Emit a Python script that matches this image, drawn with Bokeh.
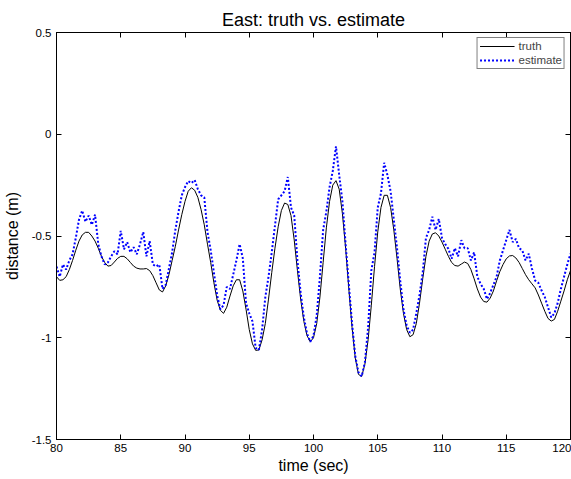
import numpy as np
from bokeh.plotting import figure
from bokeh.models import Range1d, FixedTicker, LinearAxis, Legend, LegendItem, Title
from bokeh.embed import file_html
from bokeh.resources import INLINE

# time samples (sec), 0.25 s spacing from 80 to 120
time_sec = np.arange(161) * 0.25 + 80.0

truth = [
    -0.700, -0.718, -0.715, -0.700, -0.665, -0.620, -0.570, -0.525, -0.495, -0.482,
    -0.482, -0.500, -0.525, -0.560, -0.600, -0.630, -0.648, -0.645, -0.628, -0.610,
    -0.600, -0.600, -0.612, -0.630, -0.648, -0.658, -0.662, -0.662, -0.660, -0.670,
    -0.695, -0.730, -0.765, -0.775, -0.745, -0.690, -0.620, -0.550, -0.470, -0.395,
    -0.330, -0.280, -0.263, -0.275, -0.310, -0.370, -0.445, -0.540, -0.630, -0.730,
    -0.815, -0.865, -0.880, -0.850, -0.795, -0.745, -0.715, -0.715, -0.770, -0.860,
    -0.960, -1.030, -1.062, -1.060, -1.010, -0.930, -0.810, -0.680, -0.560, -0.455,
    -0.375, -0.338, -0.345, -0.400, -0.520, -0.670, -0.810, -0.920, -0.990, -1.020,
    -1.000, -0.930, -0.800, -0.630, -0.460, -0.330, -0.250, -0.228, -0.270, -0.390,
    -0.560, -0.760, -0.950, -1.100, -1.180, -1.190, -1.130, -1.010, -0.840, -0.650,
    -0.480, -0.360, -0.300, -0.300, -0.360, -0.470, -0.610, -0.760, -0.880, -0.960,
    -0.995, -0.985, -0.930, -0.830, -0.710, -0.600, -0.525, -0.490, -0.484, -0.500,
    -0.530, -0.565, -0.600, -0.630, -0.645, -0.648, -0.638, -0.628, -0.635, -0.665,
    -0.710, -0.760, -0.800, -0.822, -0.825, -0.805, -0.770, -0.720, -0.675, -0.640,
    -0.612, -0.598, -0.596, -0.608, -0.630, -0.660, -0.690, -0.715, -0.735, -0.755,
    -0.790, -0.830, -0.870, -0.905, -0.918, -0.910, -0.870, -0.820, -0.770, -0.715,
    -0.670,
]

estimate = [
    -0.650, -0.700, -0.640, -0.665, -0.620, -0.590, -0.510, -0.420, -0.375, -0.430,
    -0.400, -0.445, -0.395, -0.540, -0.600, -0.640, -0.630, -0.600, -0.575, -0.590,
    -0.475, -0.565, -0.530, -0.580, -0.555, -0.590, -0.540, -0.480, -0.600, -0.525,
    -0.640, -0.650, -0.640, -0.760, -0.740, -0.660, -0.580, -0.470, -0.380, -0.300,
    -0.260, -0.230, -0.240, -0.225, -0.270, -0.300, -0.310, -0.480, -0.570, -0.680,
    -0.790, -0.860, -0.840, -0.750, -0.760, -0.690, -0.620, -0.540, -0.610, -0.830,
    -0.880, -0.920, -1.050, -1.060, -0.960, -0.800, -0.700, -0.580, -0.450, -0.320,
    -0.300, -0.280, -0.210, -0.360, -0.400, -0.620, -0.780, -0.900, -0.980, -1.020,
    -0.990, -0.890, -0.700, -0.470, -0.380, -0.260, -0.180, -0.060, -0.200, -0.330,
    -0.540, -0.740, -0.930, -1.090, -1.170, -1.190, -1.120, -0.950, -0.670, -0.580,
    -0.360, -0.290, -0.140, -0.200, -0.280, -0.420, -0.560, -0.720, -0.860, -0.940,
    -0.975, -0.960, -0.880, -0.790, -0.680, -0.510, -0.470, -0.405, -0.470, -0.416,
    -0.510, -0.540, -0.563, -0.612, -0.560, -0.600, -0.520, -0.560, -0.560, -0.620,
    -0.580, -0.700, -0.735, -0.760, -0.810, -0.780, -0.740, -0.700, -0.620, -0.570,
    -0.520, -0.470, -0.530, -0.514, -0.560, -0.571, -0.620, -0.587, -0.660, -0.719,
    -0.730, -0.768, -0.800, -0.850, -0.900, -0.880, -0.830, -0.760, -0.700, -0.640,
    -0.587,
]

x_ticks = [80, 85, 90, 95, 100, 105, 110, 115, 120]
y_ticks = [-1.5, -1.0, -0.5, 0.0, 0.5]
y_tick_labels = {-1.5: "-1.5", -1.0: "-1", -0.5: "-0.5", 0.0: "0", 0.5: "0.5"}

FONT = "Liberation Sans"

p = figure(width=571, height=479, output_backend="svg", toolbar_location=None,
           x_range=Range1d(80, 120), y_range=Range1d(-1.5, 0.5),
           min_border_left=54, min_border_right=1, min_border_top=32, min_border_bottom=40)
p.title = Title(text="East: truth vs. estimate", align="center", text_font=FONT,
                text_font_size="18px", text_font_style="normal", text_color="#000000",
                standoff=5)
p.background_fill_color = "white"
p.border_fill_color = "white"
p.outline_line_color = "black"
p.outline_line_width = 1
p.xgrid.visible = False
p.ygrid.visible = False

for ax in (p.xaxis[0], p.yaxis[0]):
    ax.major_tick_in = 5
    ax.major_tick_out = 0
    ax.minor_tick_line_color = None
    ax.major_label_text_font = FONT
    ax.major_label_text_font_size = "11.5px"
    ax.major_label_text_color = "black"
    ax.axis_label_text_font = FONT
    ax.axis_label_text_font_size = "16px"
    ax.axis_label_text_font_style = "normal"
    ax.axis_label_text_color = "black"
    ax.axis_line_color = "black"
    ax.major_tick_line_color = "black"

p.xaxis[0].ticker = FixedTicker(ticks=x_ticks)
p.yaxis[0].ticker = FixedTicker(ticks=y_ticks)
p.yaxis[0].major_label_overrides = y_tick_labels
p.xaxis[0].axis_label = "time (sec)"
p.yaxis[0].axis_label = "distance (m)"
p.xaxis[0].major_label_standoff = 4
p.yaxis[0].major_label_standoff = 5
p.xaxis[0].axis_label_standoff = 2
p.yaxis[0].axis_label_standoff = 8

for loc, ticks in (("above", x_ticks), ("right", y_ticks)):
    ax = LinearAxis(ticker=FixedTicker(ticks=ticks), major_tick_in=5, major_tick_out=0,
                    minor_tick_line_color=None, major_label_text_font_size="0px",
                    major_label_standoff=0, axis_line_color="black",
                    major_tick_line_color="black")
    ax.major_label_overrides = {t: "" for t in ticks}
    p.add_layout(ax, loc)

r_truth = p.line(time_sec, truth, line_color="black", line_width=1)
r_est = p.line(time_sec, estimate, line_color="#0000ff", line_width=2, line_dash="2 2")

legend = Legend(items=[LegendItem(label="truth", renderers=[r_truth]),
                       LegendItem(label="estimate", renderers=[r_est])],
                location="top_right", margin=5, padding=2, spacing=2,
                label_height=12, glyph_height=12, glyph_width=35, label_standoff=4,
                label_text_font=FONT, label_text_font_size="11.5px",
                border_line_color="black", border_line_width=1,
                background_fill_color="white", background_fill_alpha=1.0)
p.add_layout(legend)

open("out.html", "w").write(file_html(p, INLINE))
